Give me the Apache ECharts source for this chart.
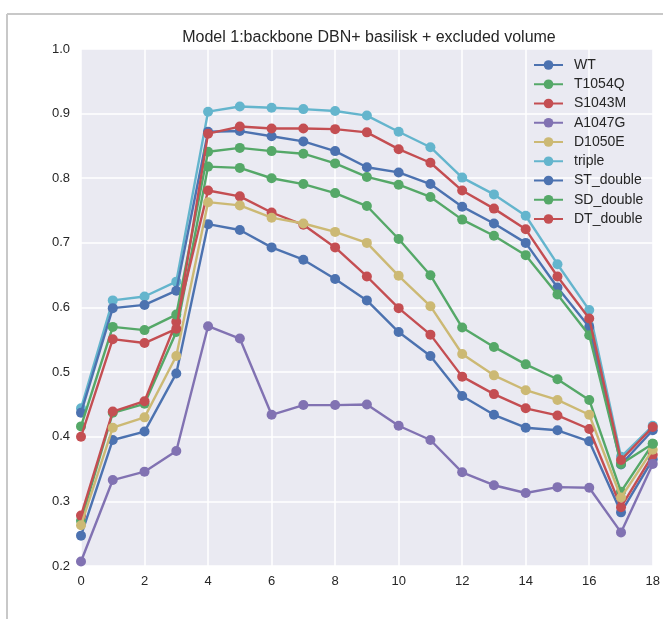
<!DOCTYPE html>
<html>
<head>
<meta charset="utf-8">
<script src="https://cdn.jsdelivr.net/npm/echarts@6/dist/echarts.min.js"></script>
<style>
html,body{margin:0;padding:0;background:#fff;}
#chart{width:663px;height:619px;}
</style>
</head>
<body>
<div id="chart"></div>
<script>
const titleText = "Model 1:backbone DBN+ basilisk + excluded volume";
const xValues = [0,1,2,3,4,5,6,7,8,9,10,11,12,13,14,15,16,17,18];
const yTicks = [0.2,0.3,0.4,0.5,0.6,0.7,0.8,0.9,1.0];
const seriesNames = ["WT","T1054Q","S1043M","A1047G","D1050E","triple","ST_double","SD_double","DT_double"];

const WT        = [0.247,0.395,0.408,0.498,0.729,0.720,0.693,0.674,0.644,0.611,0.562,0.525,0.463,0.434,0.414,0.410,0.393,0.283,0.365];
const T1054Q    = [0.270,0.437,0.451,0.562,0.818,0.816,0.800,0.791,0.777,0.757,0.706,0.650,0.569,0.539,0.512,0.489,0.457,0.315,0.389];
const S1043M    = [0.278,0.439,0.455,0.578,0.781,0.772,0.747,0.728,0.693,0.648,0.599,0.558,0.493,0.466,0.444,0.433,0.412,0.291,0.372];
const A1047G    = [0.207,0.333,0.346,0.378,0.571,0.552,0.434,0.449,0.449,0.450,0.417,0.395,0.345,0.325,0.313,0.322,0.321,0.252,0.358];
const D1050E    = [0.263,0.414,0.430,0.525,0.763,0.758,0.739,0.730,0.717,0.700,0.649,0.602,0.528,0.495,0.472,0.457,0.434,0.306,0.380];
const triple    = [0.444,0.611,0.617,0.640,0.903,0.911,0.909,0.907,0.904,0.897,0.872,0.848,0.801,0.775,0.742,0.667,0.596,0.369,0.417];
const ST_double = [0.437,0.599,0.604,0.626,0.872,0.873,0.865,0.857,0.842,0.817,0.809,0.791,0.756,0.730,0.700,0.631,0.570,0.357,0.410];
const SD_double = [0.416,0.570,0.565,0.589,0.841,0.847,0.842,0.838,0.823,0.802,0.790,0.771,0.736,0.711,0.681,0.620,0.557,0.358,0.389];
const DT_double = [0.400,0.551,0.545,0.567,0.869,0.880,0.877,0.877,0.876,0.871,0.845,0.824,0.781,0.753,0.721,0.648,0.583,0.364,0.415];

const seriesData = [WT,T1054Q,S1043M,A1047G,D1050E,triple,ST_double,SD_double,DT_double];
const colors = ["#4C72B0","#55A868","#C44E52","#8172B2","#CCB974","#64B5CD","#4C72B0","#55A868","#C44E52"];

const chart = echarts.init(document.getElementById('chart'), null, {renderer:'canvas'});
const textColor = "#262626";
const fontFam = "'Liberation Sans', Arial, sans-serif";

const option = {
  animation: false,
  backgroundColor: "#ffffff",
  graphic: [
    {type:'line', shape:{x1:7, y1:14, x2:663, y2:14}, style:{stroke:'#c8c8c8', lineWidth:2}, z:0},
    {type:'line', shape:{x1:7, y1:14, x2:7, y2:619}, style:{stroke:'#c8c8c8', lineWidth:2}, z:0}
  ],
  title: {
    text: titleText,
    left: 369, top: 29, textAlign: 'center', padding: 0,
    textStyle: {fontSize: 16, fontWeight: 'normal', color: textColor, fontFamily: fontFam, lineHeight: 18}
  },
  grid: {left: 81, right: 8, top: 49, bottom: 53, show: true, backgroundColor: "#EAEAF2", borderWidth: 0},
  legend: {
    data: seriesNames,
    orient: 'vertical',
    left: 533, top: 58, padding: 0,
    itemWidth: 29, itemHeight: 12, itemGap: 5.25,
    textStyle: {fontSize: 14, lineHeight: 14, color: textColor, fontFamily: fontFam, padding:[0,0,0,6]},
    backgroundColor: 'transparent'
  },
  xAxis: {
    type: 'value', min: 0, max: 18, interval: 2,
    axisLine: {show: false}, axisTick: {show: false},
    splitLine: {show: true, lineStyle: {color: '#ffffff', width: 1.5}},
    axisLabel: {color: textColor, fontSize: 13, margin: 9, fontFamily: fontFam}
  },
  yAxis: {
    type: 'value', min: 0.2, max: 1.0, interval: 0.1,
    axisLine: {show: false}, axisTick: {show: false},
    splitLine: {show: true, lineStyle: {color: '#ffffff', width: 1.5}},
    axisLabel: {color: textColor, fontSize: 13, margin: 11, fontFamily: fontFam,
      formatter: v => v.toFixed(1)}
  },
  series: seriesNames.map((name, i) => ({
    name: name,
    type: 'line',
    data: xValues.map((x, j) => [x, seriesData[i][j]]),
    symbol: 'circle',
    symbolSize: 10,
    showAllSymbol: true,
    clip: false,
    color: colors[i],
    lineStyle: {width: 2.4, color: colors[i]},
    itemStyle: {color: colors[i]},
    z: 2 + i
  }))
};
chart.setOption(option);
</script>
</body>
</html>
